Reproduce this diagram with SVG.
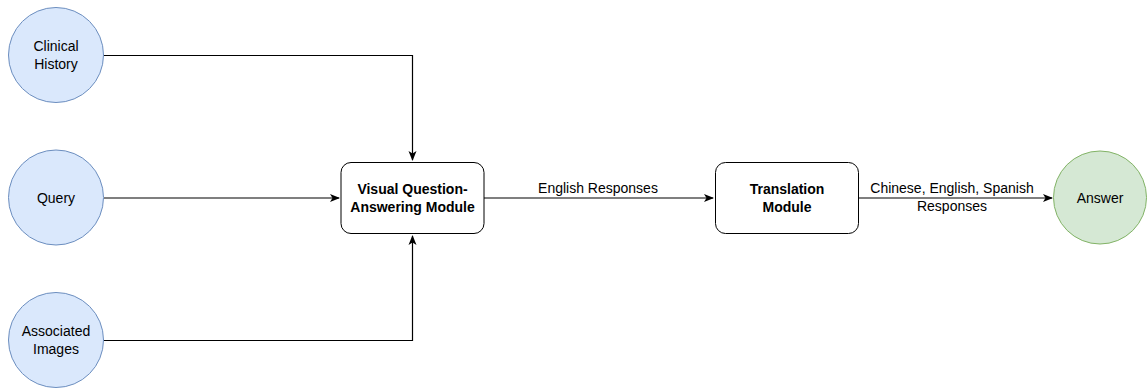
<svg xmlns="http://www.w3.org/2000/svg" width="1147" height="388" viewBox="0 0 1147 388">
<defs>
<marker id="arr" viewBox="0 0 10 10" refX="9" refY="5" markerWidth="10" markerHeight="10" markerUnits="userSpaceOnUse" orient="auto">
<path d="M0,1 L10,5 L0,9 L2.5,5 Z" fill="#000"/>
</marker>
<style>
.in{fill:#dae8fc;stroke:#6c8ebf;stroke-width:1}
.out{fill:#d5e8d4;stroke:#82b366;stroke-width:1}
.box{fill:#fff;stroke:#000;stroke-width:1}
.t{font-family:"Liberation Sans",Arial,sans-serif;font-size:14px;fill:#000;text-anchor:middle}
.b{font-weight:bold}
.e{fill:none;stroke:#000;stroke-width:1.2}
</style>
</defs>
<rect width="1147" height="388" fill="#fff"/>
<g id="connectors">
<path class="e" d="M104,55.5 H412.5 V160" marker-end="url(#arr)"/>
<path class="e" d="M104,198 H339" marker-end="url(#arr)"/>
<path class="e" d="M104,340.5 H412.5 V236" marker-end="url(#arr)"/>
<path class="e" d="M484,198 H713" marker-end="url(#arr)"/>
<path class="e" d="M858,198 H1052" marker-end="url(#arr)"/>
<text class="t" x="598" y="193">English Responses</text>
<text class="t" x="952" y="193">Chinese, English, Spanish</text>
<text class="t" x="952" y="211">Responses</text>
</g>
<g id="clinical-history">
<circle class="in" cx="56" cy="55" r="47.5"/>
<text class="t" x="56" y="51">Clinical</text>
<text class="t" x="56" y="69">History</text>
</g>
<g id="query">
<circle class="in" cx="56" cy="197.5" r="47.5"/>
<text class="t" x="56" y="202.5">Query</text>
</g>
<g id="associated-images">
<circle class="in" cx="56" cy="340" r="47.5"/>
<text class="t" x="56" y="336">Associated</text>
<text class="t" x="56" y="354">Images</text>
</g>
<g id="vqa-module">
<rect class="box" x="341" y="162.5" width="143" height="71" rx="10"/>
<text class="t b" x="412.5" y="193.5">Visual Question-</text>
<text class="t b" x="412.5" y="211.5">Answering Module</text>
</g>
<g id="translation-module">
<rect class="box" x="715.5" y="162.5" width="143" height="71" rx="10"/>
<text class="t b" x="787" y="193.5">Translation</text>
<text class="t b" x="787" y="211.5">Module</text>
</g>
<g id="answer">
<circle class="out" cx="1100" cy="197.5" r="46.5"/>
<text class="t" x="1100" y="202.5">Answer</text>
</g>
</svg>
